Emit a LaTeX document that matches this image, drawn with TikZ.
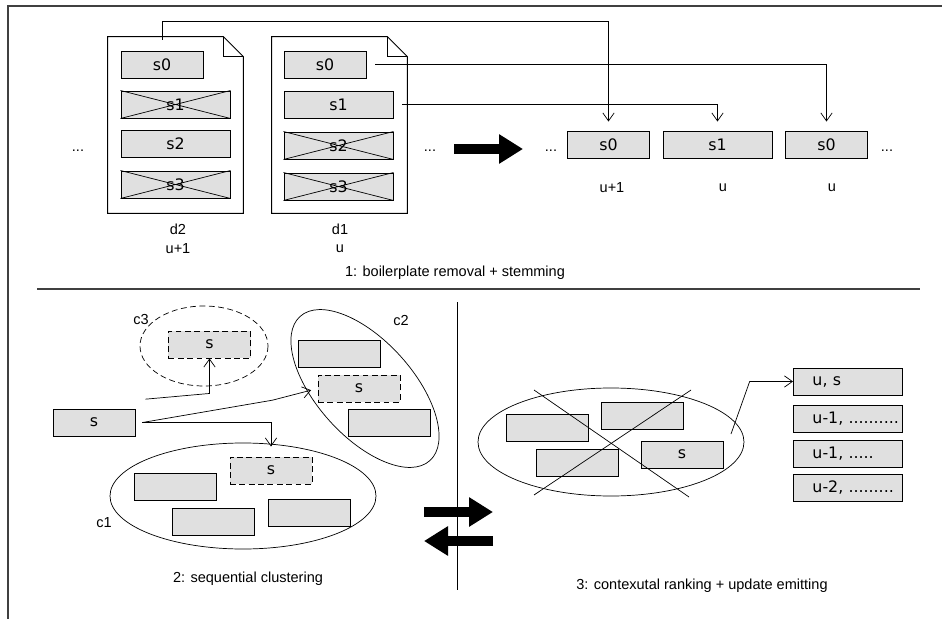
\documentclass[tikz,border=0pt]{standalone}
\usepackage{fontspec}
\setmainfont{Liberation Sans}
\newfontfamily\boxfont{DejaVu Sans}
\usepackage{tikz}
\usetikzlibrary{arrows.meta}
\definecolor{boxgray}{RGB}{224,224,224}
\definecolor{framegray}{RGB}{64,64,64}
\tikzset{>={Straight Barb[length=2.4mm,width=3.4mm]}}
\tikzset{
  sbox/.style={draw, fill=boxgray, line width=0.8pt, minimum width=2.46cm,
    minimum height=0.81cm, inner sep=0pt, font=\boxfont\fontsize{13.5}{15}\selectfont},
  wbox/.style={sbox, minimum width=3.27cm},
  dbox/.style={sbox, dash pattern=on 5pt off 3pt},
  ubox/.style={wbox, anchor=west, text width=2.13cm, inner xsep=0.57cm, align=left},
  doc/.style={minimum width=4.05cm, minimum height=5.28cm, inner sep=0pt},
  lab/.style={font=\fontsize{12.4}{15}\selectfont},
  conn/.style={->, line width=0.6pt},
  bigarrow/.style={line width=3mm, -{Triangle[length=7.2mm,width=8.4mm]}},
  frame/.style={line width=1pt, framegray}
}

\begin{document}
\begin{tikzpicture}[x=0.03cm,y=-0.03cm,line width=0.6pt]
\useasboundingbox (0,0) rectangle (942,619);
\draw[frame] (942,6) -- (8,6) -- (8,619);
\draw[frame] (37,289) -- (920,289);
\draw (457,302) -- (457,590);

% 1: documents
\node[doc] (d2) at (175.5,125) {};
\node[doc] (d1) at (339.5,125) {};
\foreach \d in {d2,d1} {
\draw[line width=0.8pt] (\d.south west) -- (\d.north west) -- ([xshift=-0.6cm]\d.north east)
  -- ([yshift=-0.6cm]\d.north east) -- (\d.south east) -- cycle;
\draw[line width=0.8pt] ([xshift=-0.6cm]\d.north east) |- ([yshift=-0.6cm]\d.north east);
}
\node[sbox] (d2s0) at (162,64.5) {s0};
\node[wbox] (d2s1) at (175.5,104.5) {s1};
\node[wbox] (d2s2) at (175.5,143.5) {s2};
\node[wbox] (d2s3) at (175.5,184.5) {s3};
\node[sbox] (d1s0) at (325,64.5) {s0};
\node[wbox] (d1s1) at (338.5,104.5) {s1};
\node[wbox] (d1s2) at (338.5,145.5) {s2};
\node[wbox] (d1s3) at (338.5,186.5) {s3};
\foreach \n in {d2s1,d2s3,d1s2,d1s3}
  \draw (\n.north west) -- (\n.south east) (\n.south west) -- (\n.north east);
\node[lab] (d2name) at (178,229) {d2};
\node[lab] (d2upd) at (178,249) {u+1};
\node[lab] (d1name) at (340,229) {d1};
\node[lab] (d1upd) at (340,249) {u};

\node[lab] (dots1) at (78,151) {...};
\node[lab] (dots2) at (430,151) {...};
\node[lab] (dots3) at (551,151) {...};
\node[lab] (dots4) at (887,151) {...};
\draw[bigarrow] (454,149) -- (523,149);

\node[sbox] (r1) at (608.5,144.5) {s0};
\node[wbox] (r2) at (717.5,144.5) {s1};
\node[sbox] (r3) at (826.5,144.5) {s0};
\node[lab] (r1upd) at (612,188) {u+1};
\node[lab] (r2upd) at (723,188) {u};
\node[lab] (r3upd) at (832,188) {u};

\draw[conn, shorten >=0.27cm] ([yshift=0.33cm]d2s0.north) |- ([yshift=3.27cm]r1.north) -- (r1.north);
\draw[conn, shorten >=0.27cm] ([xshift=0.27cm]d1s0.east) -| (r3.north);
\draw[conn, shorten >=0.27cm] ([xshift=0.27cm]d1s1.east) -| (r2.north);

\node[lab] (cap1) at (455,273) {1: boilerplate removal + stemming};

% 2: clustering
\draw[dash pattern=on 5pt off 3pt] (204,346) ellipse [x radius=64, y radius=40];
\draw[rotate around={-48:(365,388.5)}] (365,388.5) ellipse [x radius=97, y radius=48];
\draw (243,496) ellipse [x radius=133, y radius=53];
\node[dbox] (c3s) at (209.5,344.5) {s};
\node[sbox] (c2a) at (339,353.5) {};
\node[dbox] (c2s) at (359,388.5) {s};
\node[sbox] (c2b) at (389,422.5) {};
\node[dbox] (c1s) at (271,470.5) {s};
\node[sbox] (c1a) at (175.5,486.5) {};
\node[sbox] (c1b) at (213,521.5) {};
\node[sbox] (c1c) at (309,512.5) {};
\node[sbox] (in) at (94,422.5) {s};
\node[lab] (c3name) at (141,319) {c3};
\node[lab] (c2name) at (401,320) {c2};
\node[lab] (c1name) at (104,523) {c1};

\draw[conn] ([xshift=0.3cm,yshift=0.7cm]in.east) -- ([yshift=-1.05cm]c3s.south) -- (c3s.south);
\draw[conn, shorten >=0.2cm] ([xshift=0.21cm]in.east) -- ([xshift=-1.35cm,yshift=-0.35cm]c2s.west) -- (c2s.west);
\draw[conn, shorten >=0.3cm] ([xshift=0.21cm]in.east) -| (c1s.north);

\node[lab] (cap2) at (248,579) {2: sequential clustering};

\draw[bigarrow] (424,512) -- (493,512);
\draw[bigarrow] (493,541) -- (424,541);

% 3: ranking
\draw (611,442) ellipse [x radius=133, y radius=54];
\node[sbox] (k1) at (547.5,428) {};
\node[sbox] (k2) at (642.5,415.5) {};
\node[sbox] (k3) at (577,463) {};
\node[sbox] (ks) at (682,454.5) {s};
\draw (534,390) -- (689,497);
\draw (691,390) -- (534,495);
\coordinate (emit) at (731,434);
\node[ubox] (us) at (793,381.5) {u, s};
\node[ubox] (u1) at (793,418.5) {\mbox{u-1, ..........}};
\node[ubox] (u1b) at (793,454) {\mbox{u-1, .....}};
\node[ubox] (u2) at (793,488) {\mbox{u-2, .........}};
\draw[conn] (emit) -- ([xshift=-1.3cm]us.west) -- (us.west);

\node[lab] (cap3) at (702,586) {3: contexutal ranking + update emitting};
\end{tikzpicture}
\end{document}
